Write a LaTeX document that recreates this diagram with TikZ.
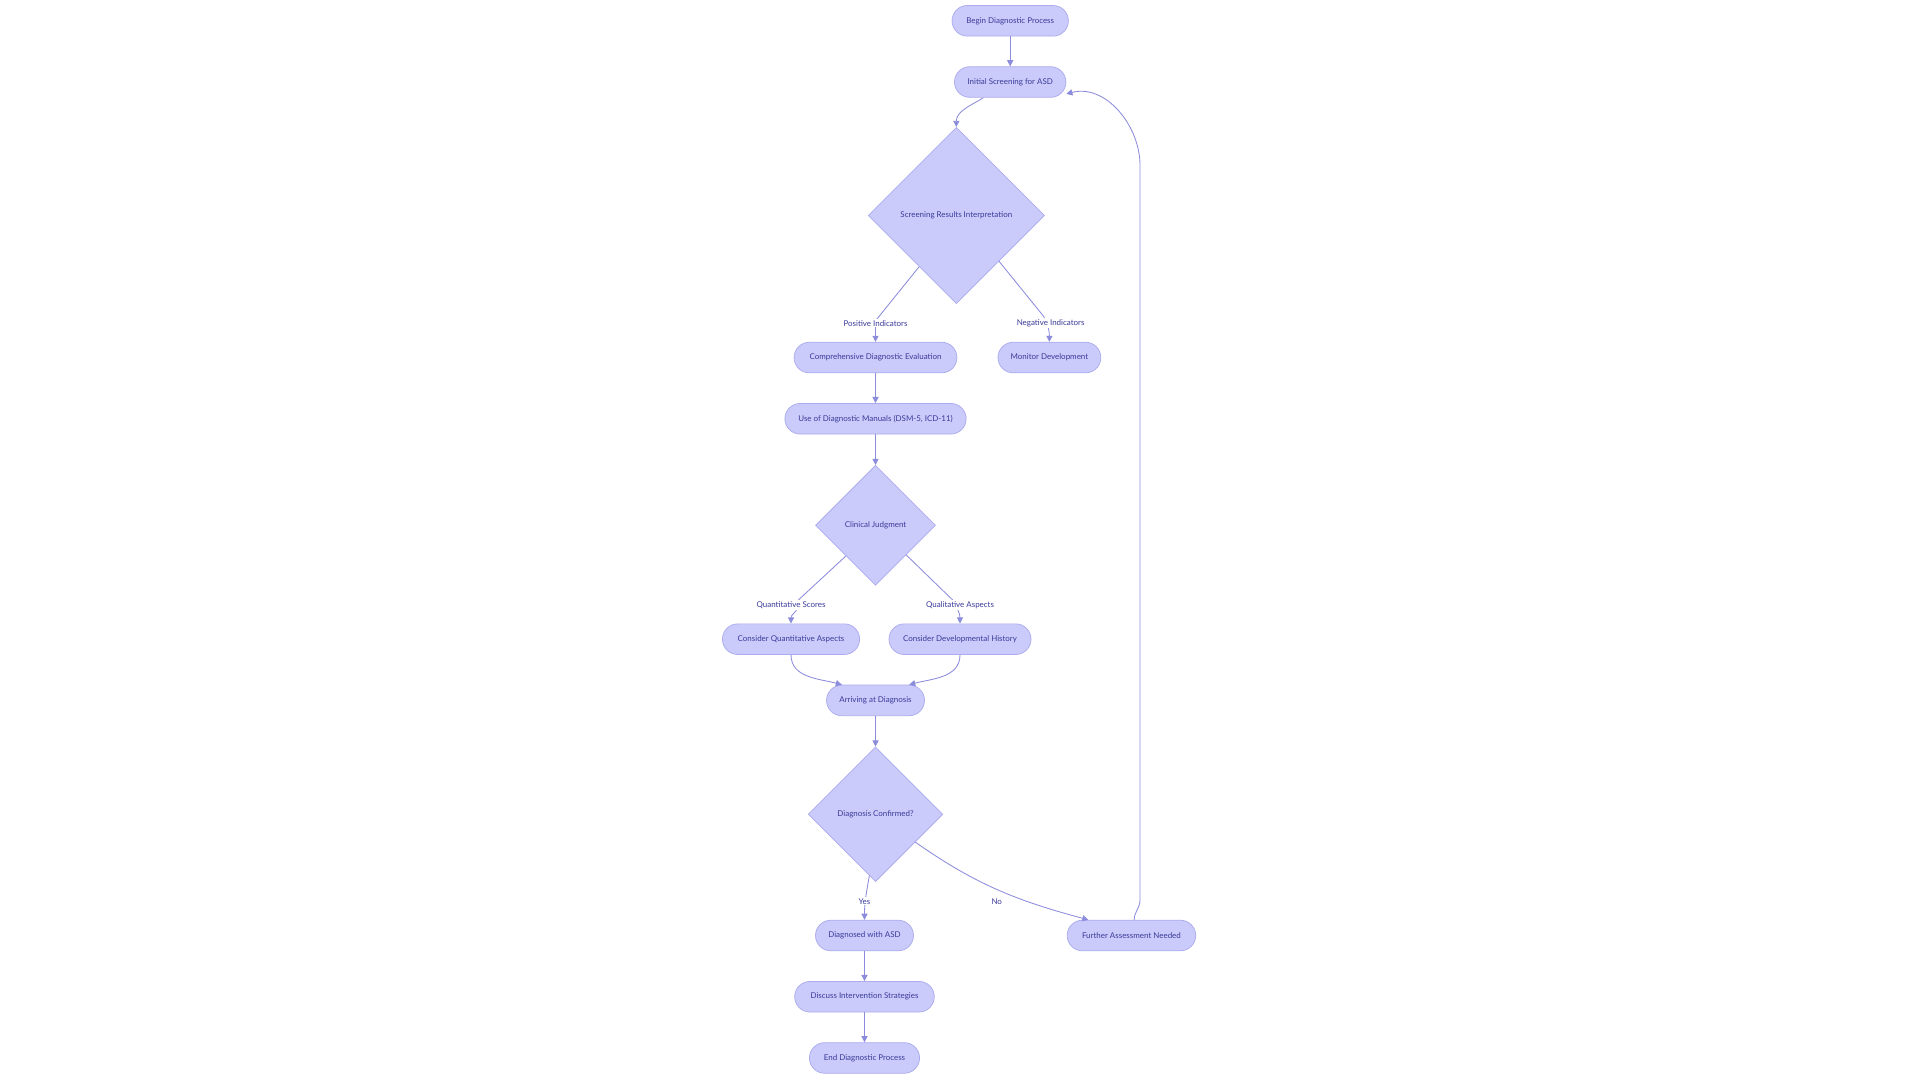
\documentclass[tikz,border=0pt]{standalone}
\usepackage{fontspec}
\setmainfont{Lato}
\usetikzlibrary{shapes.geometric,arrows.meta}
\definecolor{nfill}{HTML}{CBCBFB}
\definecolor{ndraw}{HTML}{ABABEE}
\definecolor{ntext}{HTML}{3A3A9A}
\definecolor{eline}{HTML}{8C8CDC}
\begin{document}
\begin{tikzpicture}[x=1pt,y=-1pt,
  pill/.style={draw=ndraw,fill=nfill,rounded corners=12.5pt,minimum height=25pt,text=ntext,font=\fontsize{6.5}{7}\selectfont,inner sep=0pt,line width=0.6pt},
  dia/.style={draw=ndraw,fill=nfill,diamond,aspect=1,text=ntext,font=\fontsize{6.5}{7}\selectfont,inner sep=0pt,line width=0.6pt,minimum width=#1,minimum height=#1},
  elab/.style={fill=white,text=ntext,font=\fontsize{6.5}{7}\selectfont,inner sep=1pt},
  arr/.style={draw=eline,line width=0.7pt,-{Triangle[length=5pt,width=5pt]}}]
\useasboundingbox (0,0) rectangle (1568,882);
\node[pill,minimum width=95pt] (begin) at (825,17) {Begin Diagnostic Process};
\node[pill,minimum width=91pt] (init) at (825,67) {Initial Screening for ASD};
\node[dia=144pt] (d1) at (781,176) {Screening Results Interpretation};
\node[pill,minimum width=133pt] (comp) at (715,292) {Comprehensive Diagnostic Evaluation};
\node[pill,minimum width=84pt] (mon) at (857,292) {Monitor Development};
\node[pill,minimum width=148pt] (man) at (715,342) {Use of Diagnostic Manuals (DSM-5, ICD-11)};
\node[dia=98pt] (d2) at (715,429) {Clinical Judgment};
\node[pill,minimum width=112pt] (quant) at (646,522) {Consider Quantitative Aspects};
\node[pill,minimum width=116pt] (dev) at (784,522) {Consider Developmental History};
\node[pill,minimum width=80pt] (arr) at (715,572) {Arriving at Diagnosis};
\node[dia=110pt] (d3) at (715,665) {Diagnosis Confirmed?};
\node[pill,minimum width=80pt] (asd) at (706,764) {Diagnosed with ASD};
\node[pill,minimum width=105pt] (fur) at (924,764) {Further Assessment Needed};
\node[pill,minimum width=114pt] (disc) at (706,814) {Discuss Intervention Strategies};
\node[pill,minimum width=90pt] (end) at (706,864) {End Diagnostic Process};

\coordinate (p1) at (715,262);
\coordinate (p2) at (852,258);
\coordinate (p3) at (652,490);
\coordinate (p4) at (778,490);
\coordinate (p5) at (931,735);
\coordinate (p6) at (931,135);
\coordinate (i0) at (803,80);
\coordinate (y0) at (710,715);

\draw[arr] (begin) -- (init);
\draw[arr] (i0) to[out=210,in=90] (d1.north);
\draw[arr] (d1.234) -- (p1) -- (comp.north);
\draw[arr] (d1.313) -- (p2) to[out=-60,in=90] (mon.north);
\draw[arr] (comp) -- (man);
\draw[arr] (man) -- (d2);
\draw[arr] (d2.226) -- (p3) to[out=-70,in=90] (quant.north);
\draw[arr] (d2.316) -- (p4) to[out=-60,in=90] (dev.north);
\draw[arr] (quant.south) to[out=-90,in=165] (arr.155);
\draw[arr] (dev.south) to[out=-90,in=15] (arr.25);
\draw[arr] (arr) -- (d3);
\draw[arr] (y0) to[out=-100,in=90] (asd.north);
\draw[arr] (d3.-35) to[out=-35,in=165] (fur.160);
\draw[arr] (fur.80) to[out=90,in=-90] (p5) -- (p6) to[out=90,in=15] (init.-12);
\draw[arr] (asd) -- (disc);
\draw[arr] (disc) -- (end);

\node[elab] at (715,264) {Positive Indicators};
\node[elab] at (858,264) {Negative Indicators};
\node[elab] at (646,494) {Quantitative Scores};
\node[elab] at (784,494) {Qualitative Aspects};
\node[elab] at (706,736) {Yes};
\node[elab] at (814,736) {No};
\end{tikzpicture}
\end{document}
